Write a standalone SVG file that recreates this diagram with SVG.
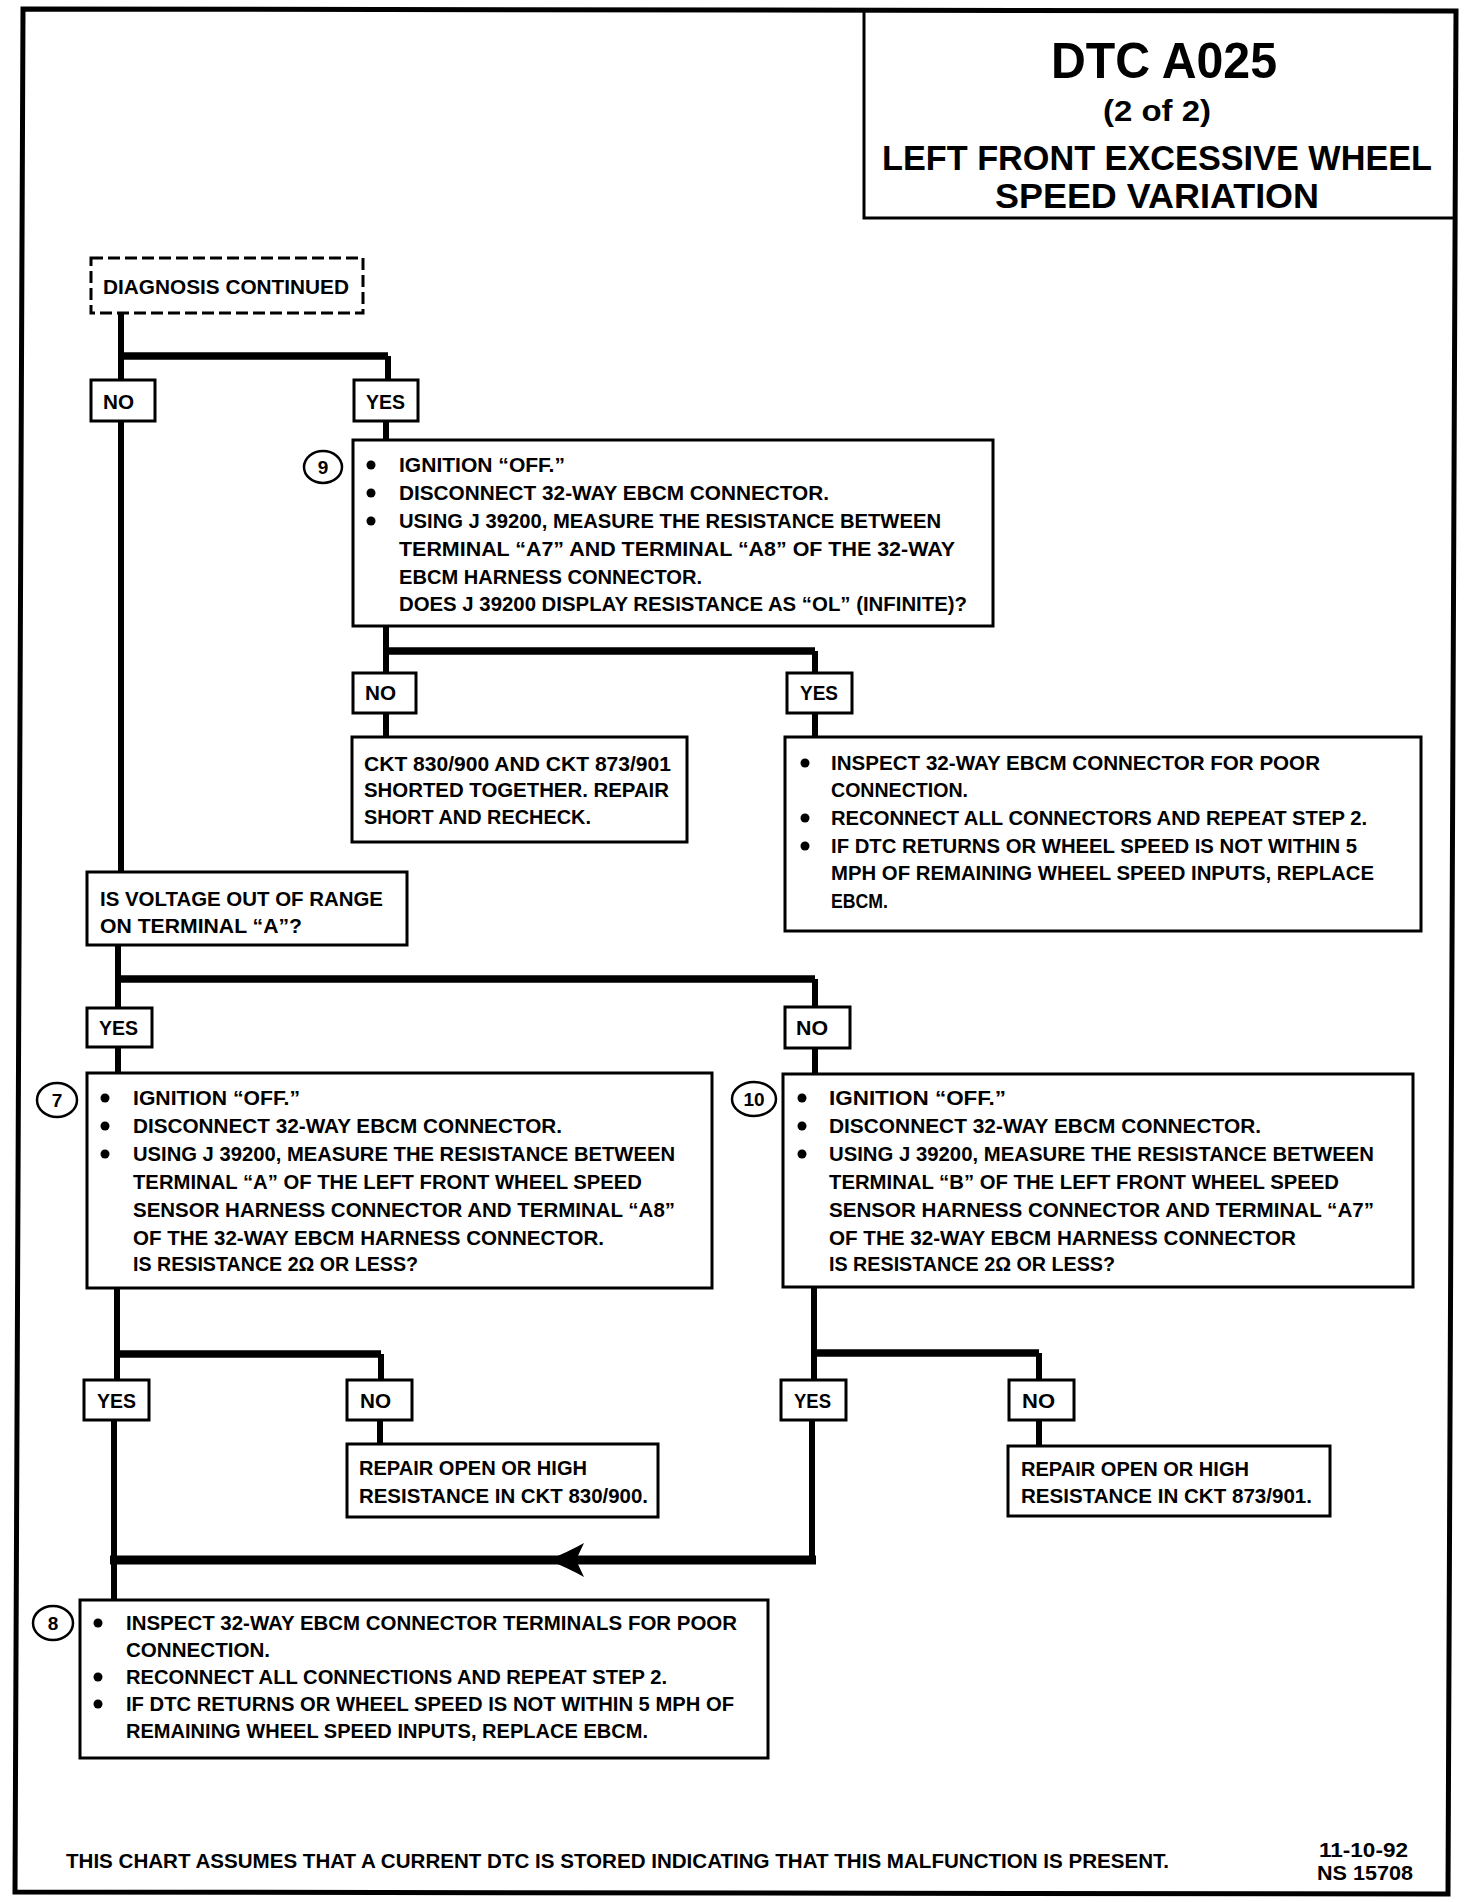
<svg xmlns="http://www.w3.org/2000/svg" width="1472" height="1902" viewBox="0 0 1472 1902">
<style>
.t{font-family:"Liberation Sans",Arial,sans-serif;font-weight:bold;font-size:20px;fill:#000}
.ti{font-family:"Liberation Sans",Arial,sans-serif;font-weight:bold;fill:#000}
.box{fill:#fff;stroke:#000;stroke-width:3}
.dash{fill:#fff;stroke:#000;stroke-width:3;stroke-dasharray:12 5}
.c{stroke:#000;stroke-width:6;fill:none}
.h{stroke:#000;stroke-width:7.5;fill:none}
.num{fill:#fff;stroke:#000;stroke-width:2.5}
.nt{font-family:"Liberation Sans",Arial,sans-serif;font-weight:bold;font-size:19px;fill:#000;text-anchor:middle}
.b{fill:#000}
</style>
<rect width="1472" height="1902" fill="#fff"/>
<g id="frame">
<polygon points="23,9 1456,11 1448,1894 15,1892" fill="none" stroke="#000" stroke-width="5"/>
<path d="M864,10 V218 H1455" fill="none" stroke="#000" stroke-width="3"/>
<text class="ti" x="1051" y="78" font-size="50" textLength="226" lengthAdjust="spacingAndGlyphs">DTC A025</text>
<text class="ti" x="1103" y="121" font-size="30" textLength="108" lengthAdjust="spacingAndGlyphs">(2 of 2)</text>
<text class="ti" x="882" y="170" font-size="35" textLength="550" lengthAdjust="spacingAndGlyphs">LEFT FRONT EXCESSIVE WHEEL</text>
<text class="ti" x="995" y="208" font-size="35" textLength="324" lengthAdjust="spacingAndGlyphs">SPEED VARIATION</text>
</g>
<g id="connectors">
<path class="c" d="M121,313 V380"/>
<path class="h" d="M121,356 H388"/>
<path class="c" d="M388,356 V380"/>
<path class="c" d="M121,421 V872"/>
<path class="c" d="M386,421 V440"/>
<path class="c" d="M386,626 V673"/>
<path class="h" d="M386,651 H815"/>
<path class="c" d="M815,651 V673"/>
<path class="c" d="M386,713 V737"/>
<path class="c" d="M815,713 V737"/>
<path class="c" d="M118,945 V1008"/>
<path class="h" d="M118,979 H815"/>
<path class="c" d="M815,979 V1007"/>
<path class="c" d="M118,1047 V1073"/>
<path class="c" d="M815,1048 V1075"/>
<path class="c" d="M117,1288 V1380"/>
<path class="h" d="M117,1354 H381"/>
<path class="c" d="M381,1354 V1380"/>
<path class="c" d="M380,1420 V1444"/>
<path class="c" d="M114,1420 V1600"/>
<path class="c" d="M814,1287 V1380"/>
<path class="h" d="M814,1353 H1039"/>
<path class="c" d="M1039,1353 V1380"/>
<path class="c" d="M1039,1420 V1446"/>
<path class="c" d="M812,1420 V1560"/>
<path class="h" style="stroke-width:9" d="M816,1560 H110"/>
<path class="b" d="M548,1560 Q568,1552 584,1543 L576,1560 L584,1577 Q568,1568 548,1560 Z"/>
</g>
<g id="n-diag">
<rect class="dash" x="91" y="258" width="272" height="55"/>
<text class="t" x="103" y="294" textLength="246" lengthAdjust="spacingAndGlyphs">DIAGNOSIS CONTINUED</text>
</g>
<g id="l-no1"><rect class="box" x="91" y="380" width="64" height="41"/><text class="t" x="103" y="409" textLength="31" lengthAdjust="spacingAndGlyphs">NO</text></g>
<g id="l-yes1"><rect class="box" x="354" y="380" width="64" height="41"/><text class="t" x="366" y="409" textLength="39" lengthAdjust="spacingAndGlyphs">YES</text></g>
<g id="n-9">
<rect class="box" x="353" y="440" width="640" height="186"/>
<ellipse class="num" cx="323" cy="467" rx="19" ry="16"/><text class="nt" x="323" y="474">9</text>
<circle class="b" cx="371" cy="465" r="4.5"/><circle class="b" cx="371" cy="493" r="4.5"/><circle class="b" cx="371" cy="521" r="4.5"/>
<text class="t" x="399" y="472" textLength="166" lengthAdjust="spacingAndGlyphs">IGNITION “OFF.”</text>
<text class="t" x="399" y="500" textLength="430" lengthAdjust="spacingAndGlyphs">DISCONNECT 32-WAY EBCM CONNECTOR.</text>
<text class="t" x="399" y="528" textLength="542" lengthAdjust="spacingAndGlyphs">USING J 39200, MEASURE THE RESISTANCE BETWEEN</text>
<text class="t" x="399" y="556" textLength="556" lengthAdjust="spacingAndGlyphs">TERMINAL “A7” AND TERMINAL “A8” OF THE 32-WAY</text>
<text class="t" x="399" y="584" textLength="303" lengthAdjust="spacingAndGlyphs">EBCM HARNESS CONNECTOR.</text>
<text class="t" x="399" y="611" textLength="568" lengthAdjust="spacingAndGlyphs">DOES J 39200 DISPLAY RESISTANCE AS “OL” (INFINITE)?</text>
</g>
<g id="l-no2"><rect class="box" x="353" y="673" width="63" height="40"/><text class="t" x="365" y="700" textLength="31" lengthAdjust="spacingAndGlyphs">NO</text></g>
<g id="l-yes2"><rect class="box" x="787" y="673" width="65" height="40"/><text class="t" x="800" y="700" textLength="38" lengthAdjust="spacingAndGlyphs">YES</text></g>
<g id="n-short">
<rect class="box" x="352" y="737" width="335" height="105"/>
<text class="t" x="364" y="771" textLength="307" lengthAdjust="spacingAndGlyphs">CKT 830/900 AND CKT 873/901</text>
<text class="t" x="364" y="797" textLength="305" lengthAdjust="spacingAndGlyphs">SHORTED TOGETHER.  REPAIR</text>
<text class="t" x="364" y="824" textLength="227" lengthAdjust="spacingAndGlyphs">SHORT AND RECHECK.</text>
</g>
<g id="n-inspect1">
<rect class="box" x="785" y="737" width="636" height="194"/>
<circle class="b" cx="805" cy="763" r="4.5"/><circle class="b" cx="805" cy="818" r="4.5"/><circle class="b" cx="805" cy="846" r="4.5"/>
<text class="t" x="831" y="770" textLength="489" lengthAdjust="spacingAndGlyphs">INSPECT 32-WAY EBCM CONNECTOR FOR POOR</text>
<text class="t" x="831" y="797" textLength="137" lengthAdjust="spacingAndGlyphs">CONNECTION.</text>
<text class="t" x="831" y="825" textLength="536" lengthAdjust="spacingAndGlyphs">RECONNECT ALL CONNECTORS AND REPEAT STEP 2.</text>
<text class="t" x="831" y="853" textLength="526" lengthAdjust="spacingAndGlyphs">IF DTC RETURNS OR WHEEL SPEED IS NOT WITHIN 5</text>
<text class="t" x="831" y="880" textLength="543" lengthAdjust="spacingAndGlyphs">MPH OF REMAINING WHEEL SPEED INPUTS, REPLACE</text>
<text class="t" x="831" y="908" textLength="57" lengthAdjust="spacingAndGlyphs">EBCM.</text>
</g>
<g id="n-voltage">
<rect class="box" x="87" y="872" width="320" height="73"/>
<text class="t" x="100" y="906" textLength="283" lengthAdjust="spacingAndGlyphs">IS VOLTAGE OUT OF RANGE</text>
<text class="t" x="100" y="933" textLength="202" lengthAdjust="spacingAndGlyphs">ON TERMINAL “A”?</text>
</g>
<g id="l-yes3"><rect class="box" x="87" y="1008" width="65" height="39"/><text class="t" x="99" y="1035" textLength="39" lengthAdjust="spacingAndGlyphs">YES</text></g>
<g id="l-no3"><rect class="box" x="785" y="1007" width="65" height="41"/><text class="t" x="796" y="1035" textLength="32" lengthAdjust="spacingAndGlyphs">NO</text></g>
<g id="n-7">
<rect class="box" x="87" y="1073" width="625" height="215"/>
<ellipse class="num" cx="57" cy="1100" rx="20" ry="17"/><text class="nt" x="57" y="1107">7</text>
<circle class="b" cx="105" cy="1098" r="4.5"/><circle class="b" cx="105" cy="1126" r="4.5"/><circle class="b" cx="105" cy="1154" r="4.5"/>
<text class="t" x="133" y="1105" textLength="167" lengthAdjust="spacingAndGlyphs">IGNITION “OFF.”</text>
<text class="t" x="133" y="1133" textLength="429" lengthAdjust="spacingAndGlyphs">DISCONNECT 32-WAY EBCM CONNECTOR.</text>
<text class="t" x="133" y="1161" textLength="542" lengthAdjust="spacingAndGlyphs">USING J 39200, MEASURE THE RESISTANCE BETWEEN</text>
<text class="t" x="133" y="1189" textLength="509" lengthAdjust="spacingAndGlyphs">TERMINAL “A” OF THE LEFT FRONT WHEEL SPEED</text>
<text class="t" x="133" y="1217" textLength="542" lengthAdjust="spacingAndGlyphs">SENSOR HARNESS CONNECTOR AND TERMINAL “A8”</text>
<text class="t" x="133" y="1245" textLength="471" lengthAdjust="spacingAndGlyphs">OF THE 32-WAY EBCM HARNESS CONNECTOR.</text>
<text class="t" x="133" y="1271" textLength="285" lengthAdjust="spacingAndGlyphs">IS RESISTANCE 2Ω OR LESS?</text>
</g>
<g id="n-10">
<rect class="box" x="783" y="1074" width="630" height="213"/>
<ellipse class="num" cx="754" cy="1099" rx="22" ry="17"/><text class="nt" x="754" y="1106">10</text>
<circle class="b" cx="802" cy="1098" r="4.5"/><circle class="b" cx="802" cy="1126" r="4.5"/><circle class="b" cx="802" cy="1154" r="4.5"/>
<text class="t" x="829" y="1105" textLength="177" lengthAdjust="spacingAndGlyphs">IGNITION “OFF.”</text>
<text class="t" x="829" y="1133" textLength="432" lengthAdjust="spacingAndGlyphs">DISCONNECT 32-WAY EBCM CONNECTOR.</text>
<text class="t" x="829" y="1161" textLength="545" lengthAdjust="spacingAndGlyphs">USING J 39200, MEASURE THE RESISTANCE BETWEEN</text>
<text class="t" x="829" y="1189" textLength="510" lengthAdjust="spacingAndGlyphs">TERMINAL “B” OF THE LEFT FRONT WHEEL SPEED</text>
<text class="t" x="829" y="1217" textLength="545" lengthAdjust="spacingAndGlyphs">SENSOR HARNESS CONNECTOR AND TERMINAL “A7”</text>
<text class="t" x="829" y="1245" textLength="467" lengthAdjust="spacingAndGlyphs">OF THE 32-WAY EBCM HARNESS CONNECTOR</text>
<text class="t" x="829" y="1271" textLength="286" lengthAdjust="spacingAndGlyphs">IS RESISTANCE 2Ω OR LESS?</text>
</g>
<g id="l-yes4"><rect class="box" x="84" y="1380" width="65" height="40"/><text class="t" x="97" y="1408" textLength="39" lengthAdjust="spacingAndGlyphs">YES</text></g>
<g id="l-no4"><rect class="box" x="347" y="1380" width="65" height="40"/><text class="t" x="360" y="1408" textLength="31" lengthAdjust="spacingAndGlyphs">NO</text></g>
<g id="l-yes5"><rect class="box" x="781" y="1380" width="65" height="40"/><text class="t" x="794" y="1408" textLength="37" lengthAdjust="spacingAndGlyphs">YES</text></g>
<g id="l-no5"><rect class="box" x="1009" y="1380" width="65" height="40"/><text class="t" x="1022" y="1408" textLength="33" lengthAdjust="spacingAndGlyphs">NO</text></g>
<g id="n-repair1">
<rect class="box" x="347" y="1444" width="311" height="73"/>
<text class="t" x="359" y="1475" textLength="228" lengthAdjust="spacingAndGlyphs">REPAIR OPEN OR HIGH</text>
<text class="t" x="359" y="1503" textLength="289" lengthAdjust="spacingAndGlyphs">RESISTANCE IN CKT 830/900.</text>
</g>
<g id="n-repair2">
<rect class="box" x="1008" y="1446" width="322" height="70"/>
<text class="t" x="1021" y="1476" textLength="228" lengthAdjust="spacingAndGlyphs">REPAIR OPEN OR HIGH</text>
<text class="t" x="1021" y="1503" textLength="291" lengthAdjust="spacingAndGlyphs">RESISTANCE IN CKT 873/901.</text>
</g>
<g id="n-8">
<rect class="box" x="80" y="1600" width="688" height="158"/>
<ellipse class="num" cx="53" cy="1623" rx="20" ry="17"/><text class="nt" x="53" y="1630" font-size="20">8</text>
<circle class="b" cx="98" cy="1623" r="4.5"/><circle class="b" cx="98" cy="1677" r="4.5"/><circle class="b" cx="98" cy="1704" r="4.5"/>
<text class="t" x="126" y="1630" textLength="611" lengthAdjust="spacingAndGlyphs">INSPECT 32-WAY EBCM CONNECTOR TERMINALS FOR POOR</text>
<text class="t" x="126" y="1657" textLength="144" lengthAdjust="spacingAndGlyphs">CONNECTION.</text>
<text class="t" x="126" y="1684" textLength="541" lengthAdjust="spacingAndGlyphs">RECONNECT ALL CONNECTIONS AND REPEAT STEP 2.</text>
<text class="t" x="126" y="1711" textLength="608" lengthAdjust="spacingAndGlyphs">IF DTC RETURNS OR WHEEL SPEED IS NOT WITHIN 5 MPH OF</text>
<text class="t" x="126" y="1738" textLength="522" lengthAdjust="spacingAndGlyphs">REMAINING WHEEL SPEED INPUTS, REPLACE EBCM.</text>
</g>
<g id="footer">
<text class="t" x="66" y="1868" textLength="1103" lengthAdjust="spacingAndGlyphs">THIS CHART ASSUMES THAT A CURRENT DTC IS STORED INDICATING THAT THIS MALFUNCTION IS PRESENT.</text>
<text class="t" x="1319" y="1857" font-size="19" textLength="89" lengthAdjust="spacingAndGlyphs">11-10-92</text>
<text class="t" x="1317" y="1880" font-size="19" textLength="96" lengthAdjust="spacingAndGlyphs">NS 15708</text>
</g>
</svg>
